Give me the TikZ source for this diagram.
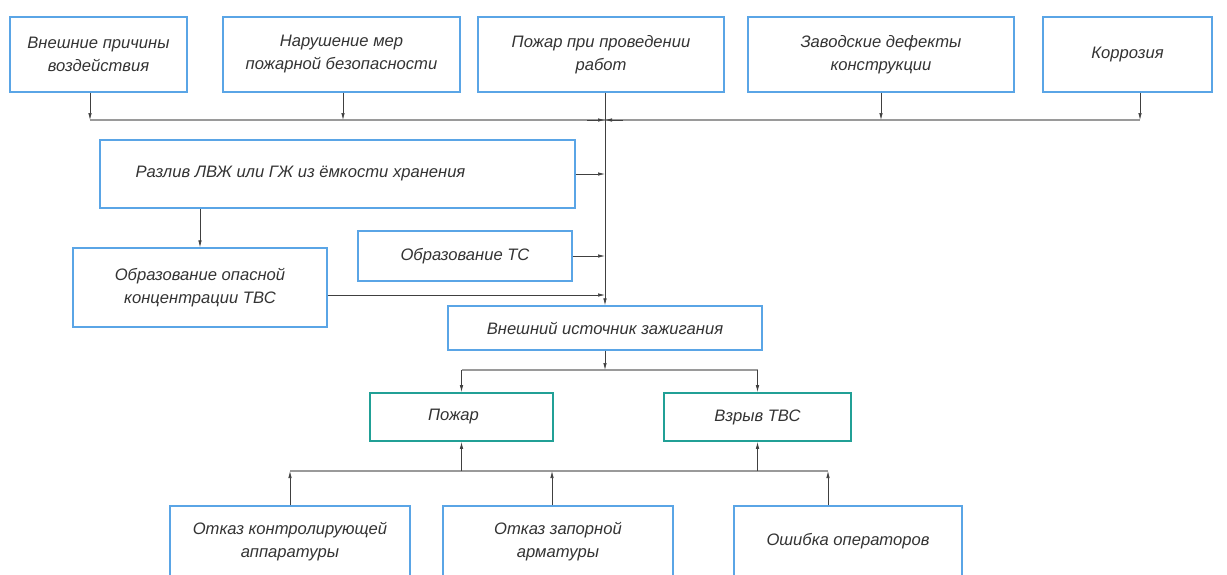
\documentclass[tikz,border=0pt]{standalone}
\usepackage{fontspec}
\setmainfont{Liberation Sans}
\usetikzlibrary{arrows.meta,calc}
\definecolor{bblue}{HTML}{5AA5E6}
\definecolor{bteal}{HTML}{21A096}
\definecolor{lgray}{HTML}{9A9A9A}
\begin{document}
\begin{tikzpicture}[x=1pt,y=-1pt,
  box/.style={draw=bblue,line width=1.3pt,inner sep=0pt,align=center,
    font=\itshape\fontsize{16.6}{23}\selectfont,text=black!80},
  tbx/.style={box,draw=bteal,line width=1.8pt},
  busline/.style={draw=lgray,line width=1.2pt},
  arr/.style={draw=black!75,line width=0.7pt,-{Latex[length=7pt,width=3.5pt]}}]
\useasboundingbox (0,0) rectangle (1227,574);
\clip (0,0) rectangle (1227,574);
% top row
\node[box,minimum width=177pt,minimum height=75pt] (b1) at (98.5,54.5) {Внешние причины\\воздействия};
\node[box,minimum width=237pt,minimum height=75pt] (b2) at (341.5,54.5) {Нарушение мер\\пожарной безопасности};
\node[box,minimum width=246pt,minimum height=75pt] (b3) at (601,54.5) {Пожар при проведении\\работ};
\node[box,minimum width=266pt,minimum height=75pt] (b4) at (881,54.5) {Заводские дефекты\\конструкции};
\node[box,minimum width=169pt,minimum height=75pt] (b5) at (1127.5,54.5) {Коррозия};
% middle
\node[box,minimum width=475pt,minimum height=68pt,align=none] (razliv) at (337.5,174) {Разлив ЛВЖ или ГЖ из ёмкости хранения\hspace*{74pt}};
\node[box,minimum width=254pt,minimum height=79pt] (conc) at (200,287.5) {Образование опасной\\концентрации ТВС};
\node[box,minimum width=214pt,minimum height=50pt] (ts) at (465,256) {Образование ТС};
\node[box,minimum width=314pt,minimum height=44pt] (ign) at (605,328) {Внешний источник зажигания};
\node[tbx,minimum width=183pt,minimum height=48pt] (fire) at (461.5,417) {Пожар\hspace*{16pt}};
\node[tbx,minimum width=187pt,minimum height=48pt] (expl) at (757.5,417) {Взрыв ТВС};
% bottom
\node[box,minimum width=240pt,minimum height=71pt] (f1) at (290,541.5) {Отказ контролирующей\\аппаратуры};
\node[box,minimum width=230pt,minimum height=71pt] (f2) at (558,541.5) {Отказ запорной\\арматуры};
\node[box,minimum width=228pt,minimum height=71pt] (f3) at (848,541.5) {Ошибка операторов};
% top bus
\coordinate (t1) at (90,120);
\coordinate (t2) at (343,120);
\coordinate (tc) at (605,120);
\coordinate (t4) at (881,120);
\coordinate (t5) at (1140,120);
\draw[busline] (t1) -- (t5);
\draw[arr] (t1 |- b1.south) -- (t1);
\draw[arr] (t2 |- b2.south) -- (t2);
\draw[arr] (t4 |- b4.south) -- (t4);
\draw[arr] (t5 |- b5.south) -- (t5);
\draw[arr] ($(tc)+(-18,0)$) -- (tc);
\draw[arr] ($(tc)+(18,0)$) -- (tc);
% main vertical
\draw[arr] (ign.north |- b3.south) -- (ign.north);
\draw[arr] (razliv.east) -- (razliv.east -| ign.north);
\draw[arr] (ts.east) -- (ts.east -| ign.north);
\draw[arr] ([yshift=-7.5pt]conc.east) -- ([yshift=-7.5pt]conc.east -| ign.north);
\draw[arr] (razliv.south -| conc.north) -- (conc.north);
% ignition split
\coordinate (sp) at (605,370);
\draw[busline] (fire.north |- sp) -- (expl.north |- sp);
\draw[arr] (ign.south) -- (sp);
\draw[arr] (fire.north |- sp) -- (fire.north);
\draw[arr] (expl.north |- sp) -- (expl.north);
% bottom bus
\coordinate (m1) at (290,471);
\coordinate (m2) at (552,471);
\coordinate (m3) at (828,471);
\draw[busline] (m1) -- (m3);
\draw[arr] (m1 |- f1.north) -- (m1);
\draw[arr] (m2 |- f2.north) -- (m2);
\draw[arr] (m3 |- f3.north) -- (m3);
\draw[arr] (fire.south |- m1) -- (fire.south);
\draw[arr] (expl.south |- m1) -- (expl.south);
\end{tikzpicture}
\end{document}
